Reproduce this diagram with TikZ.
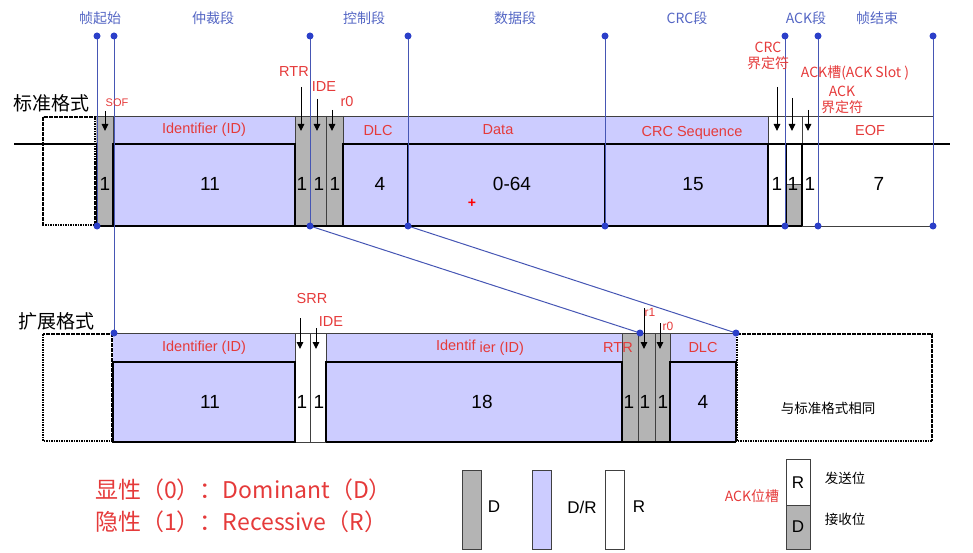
\documentclass[tikz,border=0pt]{standalone}
\usepackage{fontspec}
\setmainfont{Liberation Sans}
\newfontfamily\cjk{Noto Sans CJK SC}
\usetikzlibrary{arrows.meta}
\definecolor{fblue}{HTML}{CCCCFF}
\definecolor{fgray}{HTML}{B4B4B4}
\definecolor{lblue}{HTML}{4656B4}
\definecolor{dblue}{HTML}{2B3FC9}
\definecolor{tblue}{HTML}{5466C4}
\definecolor{tred}{HTML}{E53A3A}
\tikzset{
  thinb/.style={line width=0.7pt, draw=black!75},
  thickb/.style={line width=2.6pt, draw=black, line join=miter},
  bline/.style={draw=lblue, line width=1pt},
  bdot/.style={circle, fill=dblue, inner sep=0pt, minimum size=7pt},
  arr/.style={-{Triangle[length=7pt,width=6.5pt]}, line width=1pt},
  toplab/.style={font=\cjk\fontsize{14}{14}\selectfont, text=tblue, inner sep=0pt},
  redlab/.style={text=tred, font=\fontsize{14.5}{14.5}\selectfont, inner sep=0pt},
  redcjk/.style={text=tred, font=\cjk\fontsize{14}{16}\selectfont, inner sep=0pt, align=center},
  num/.style={font=\fontsize{19}{19}\selectfont, inner sep=0pt},
  dotbox/.style={line width=2.4pt, dash pattern=on 1.6pt off 0.9pt},
  fmtlab/.style={font=\cjk\fontsize{19}{19}\selectfont, inner sep=0pt},
}
\begin{document}
\begin{tikzpicture}[x=1pt,y=-1pt]
\useasboundingbox (0,0) rectangle (973,553);
% ---------- standard format fills ----------
\fill[fgray] (96,116) rectangle (113,226);
\fill[fblue] (113,116) rectangle (295,226);
\fill[fgray] (295,116) rectangle (343,226);
\fill[fblue] (343,116) rectangle (768,226);
\fill[fgray] (786,184) rectangle (802,226);
\draw[thinb] (786,184) -- (802,184);
% thin lines
\draw[thinb] (96,116) -- (933,116);
\foreach \x in {113,295,343,768,802} \draw[thinb] (\x,116) -- (\x,144);
\foreach \x in {310,326} \draw[thinb] (\x,116) -- (\x,226);
\draw[thinb] (802,226) -- (933,226);
% dotted box
\draw[dotbox] (43,117) rectangle (95,225);
% thick waveform
\draw[thickb] (14,144) -- (97,144) -- (97,226) -- (802,226);
\draw[thickb] (113,226) -- (113,144) -- (295,144) -- (295,226);
\draw[thickb] (343,226) -- (343,144) -- (950,144);
\foreach \x in {408,605,768,786,802} \draw[thickb] (\x,144) -- (\x,226);
% ---------- extended format ----------
\fill[fblue] (113,333) rectangle (295,442);
\fill[fblue] (326,333) rectangle (622,442);
\fill[fgray] (622,333) rectangle (670,442);
\fill[fblue] (670,333) rectangle (736,442);
\draw[thinb] (113,333) -- (736,333);
\foreach \x in {295,326,622,670} \draw[thinb] (\x,333) -- (\x,362);
\foreach \x in {310,638,655} \draw[thinb] (\x,333) -- (\x,442);
\draw[thinb] (295,442) -- (326,442);
\draw[dotbox] (43,334) rectangle (112,441);
\draw[dotbox] (737,334) rectangle (932,441);
\draw[thickb] (295,442) -- (113,442) -- (113,362) -- (295,362) -- cycle;
\draw[thickb] (326,442) -- (326,362) -- (622,362) -- (622,442);
\draw[thickb] (326,442) -- (736,442);
\draw[thickb] (670,442) -- (670,362) -- (736,362) -- (736,442);
% ---------- blue markers ----------
\foreach \n/\x in {a/97,b/114,c/310,d/408,e/605,f/785,g/818,h/933}
  \coordinate (t\n) at (\x,36);
\foreach \n/\x in {a/97,c/310,d/408,e/605,f/785,g/818,h/933}
  \coordinate (u\n) at (\x,226);
\coordinate (eb) at (114,333);
\coordinate (ec) at (640,333);
\coordinate (ed) at (736,333);
\foreach \n in {a,c,d,e,f,g,h} \draw[bline] (t\n) -- (u\n);
\draw[bline] (tb) -- (eb);
\draw[bline] (uc) -- (ec);
\draw[bline] (ud) -- (ed);
\foreach \n in {a,b,c,d,e,f,g,h} \node[bdot] (dt\n) at (t\n) {};
\foreach \n in {a,c,d,e,f,g,h} \node[bdot] (du\n) at (u\n) {};
\node[bdot] (deb) at (eb) {};
\node[bdot] (dec) at (ec) {};
\node[bdot] (ded) at (ed) {};
% ---------- top labels ----------
\node[toplab] (l1) at (100,18) {帧起始};
\node[toplab] (l2) at (213,18) {仲裁段};
\node[toplab] (l3) at (364,18) {控制段};
\node[toplab] (l4) at (515,18) {数据段};
\node[toplab] (l5) at (687,18) {CRC段};
\node[toplab] (l6) at (806,18) {ACK段};
\node[toplab] (l7) at (877,18) {帧结束};
% format labels
\node[fmtlab] (sf) at (51,103) {标准格式};
\node[fmtlab] (ef) at (56,321) {扩展格式};
% ---------- standard field labels ----------
\node[redlab] (sid) at (204,130) {Identifier (ID)};
\node[redlab] (sdlc) at (378,131) {DLC};
\node[redlab] (sdata) at (498,130) {Data};
\node[redlab] (scrc) at (692,133) {CRC Sequence};
\node[redlab] (seof) at (870,131) {EOF};
\foreach \n/\x/\t in {n1/105/1,n2/210/11,n3/302/1,n4/319/1,n5/335/1,n6/380/4,n7/512/0-64,n8/693/15,n9/777/1,n10/793/1,n11/810/1,n12/879/7}
  \node[num] (s\n) at (\x,184) {\t};
\node[text=red, font=\bfseries\fontsize{14}{14}\selectfont, inner sep=0pt] (cross) at (472,203) {+};
% annotations standard
\node[redlab, font=\fontsize{11}{11}\selectfont] (sof) at (117,103) {SOF};
\coordinate (sofa) at (105,111); \coordinate (sofb) at (105,131);
\draw[arr] (sofa) -- (sofb);
\node[redlab] (rtr) at (294,72) {RTR};
\coordinate (rtra) at (301,87); \coordinate (rtrb) at (301,131);
\draw[arr] (rtra) -- (rtrb);
\node[redlab] (ide) at (324,87) {IDE};
\coordinate (idea) at (317,99); \coordinate (ideb) at (317,131);
\draw[arr] (idea) -- (ideb);
\node[redlab] (r0) at (347,102) {r0};
\coordinate (r0a) at (332,110); \coordinate (r0b) at (332,131);
\draw[arr] (r0a) -- (r0b);
\node[redcjk] (crcd) at (768,56) {CRC\\界定符};
\coordinate (crca) at (777,87); \coordinate (crcb) at (777,131);
\draw[arr] (crca) -- (crcb);
\node[redcjk] (ackslot) at (855,73) {ACK槽(ACK Slot )};
\coordinate (acka) at (792,98); \coordinate (ackb) at (792,131);
\draw[arr] (acka) -- (ackb);
\node[redcjk] (ackd) at (842,100) {ACK\\界定符};
\coordinate (ackda) at (808,110); \coordinate (ackdb) at (808,131);
\draw[arr] (ackda) -- (ackdb);
% ---------- extended labels ----------
\node[redlab] (eid) at (204,348) {Identifier (ID)};
\node[redlab] (eid2) at (480,348) {Identif \raisebox{-2pt}{ier (ID)}};
\node[redlab] (ertr) at (618,348) {RTR};
\node[redlab] (edlc) at (703,348) {DLC};
\foreach \n/\x/\t in {m1/210/11,m2/302/1,m3/319/1,m4/482/18,m5/629/1,m6/645/1,m7/663/1,m8/703/4}
  \node[num] (e\n) at (\x,402) {\t};
\node[font=\cjk\fontsize{13.5}{13.5}\selectfont, inner sep=0pt] (same) at (828,408) {与标准格式相同};
\node[redlab] (srr) at (312,299) {SRR};
\coordinate (srra) at (300,318); \coordinate (srrb) at (300,349);
\draw[arr] (srra) -- (srrb);
\node[redlab] (eide) at (331,322) {IDE};
\coordinate (eidea) at (316,328); \coordinate (eideb) at (316,349);
\draw[arr] (eidea) -- (eideb);
\node[redlab, font=\fontsize{12}{12}\selectfont] (er1) at (650,312) {r1};
\coordinate (r1a) at (644,308); \coordinate (r1b) at (644,349);
\draw[arr] (r1a) -- (r1b);
\node[redlab, font=\fontsize{12}{12}\selectfont] (er0) at (668,326) {r0};
\coordinate (er0a) at (660,323); \coordinate (er0b) at (660,349);
\draw[arr] (er0a) -- (er0b);
% ---------- legend ----------
\node[anchor=west, text=tred, font=\cjk\fontsize{23}{23}\selectfont, inner sep=0pt] (leg1) at (95,490) {显性（0）：Dominant（D）};
\node[anchor=west, text=tred, font=\cjk\fontsize{23}{23}\selectfont, inner sep=0pt] (leg2) at (95,522) {隐性（1）：Recessive（R）};
\draw[thinb, fill=fgray] (462,470) rectangle (481,549);
\draw[thinb, fill=fblue] (532,470) rectangle (551,549);
\draw[thinb, fill=white] (605,470) rectangle (624,549);
\node[font=\fontsize{17}{17}\selectfont, inner sep=0pt] (lgd) at (494,507) {D};
\node[font=\fontsize{17}{17}\selectfont, inner sep=0pt] (lgdr) at (582,507) {D/R};
\node[font=\fontsize{17}{17}\selectfont, inner sep=0pt] (lgr) at (639,507) {R};
\draw[thinb, fill=white] (786,459) rectangle (810,505);
\draw[thinb, fill=fgray] (786,505) rectangle (810,549);
\node[font=\fontsize{17}{17}\selectfont, inner sep=0pt] (ar) at (798,483) {R};
\node[font=\fontsize{17}{17}\selectfont, inner sep=0pt] (ad) at (798,527) {D};
\node[text=tred, font=\cjk\fontsize{14}{14}\selectfont, inner sep=0pt] (acklab) at (752,496) {ACK位槽};
\node[font=\cjk\fontsize{13.5}{13.5}\selectfont, inner sep=0pt] (send) at (845,478) {发送位};
\node[font=\cjk\fontsize{13.5}{13.5}\selectfont, inner sep=0pt] (recv) at (845,519) {接收位};
\end{tikzpicture}
\end{document}
